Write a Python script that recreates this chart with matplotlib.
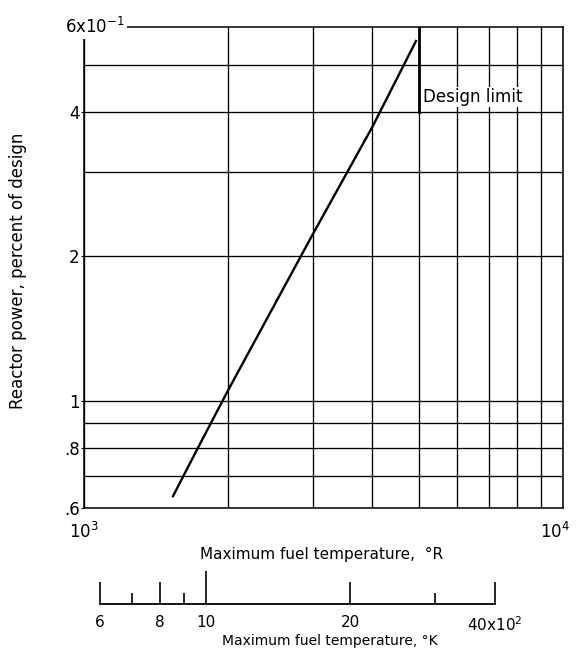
import matplotlib
matplotlib.use('Agg')
import matplotlib.pyplot as plt
from matplotlib import font_manager
from matplotlib.ticker import NullFormatter
from matplotlib.transforms import ScaledTranslation

# curve (max fuel temp in deg R, reactor power x10^-1 % of design)
temp_R = [1534, 1729, 2000, 3000, 4000, 4932]
power = [0.635, 0.8, 1.055, 2.22, 3.72, 5.61]

r_grid = [2000, 3000, 4000, 5000, 6000, 7000, 8000, 9000]
p_ticks = [0.6, 0.8, 1, 2, 4]
p_tick_labels = ['.6', '.8', '1', '2', '4']
p_grid = [0.7, 0.9, 3, 5]
design_limit_R = 5000
design_limit_span = [4, 6]

# kelvin scale under the chart
k_ticks = [600, 800, 1000, 2000, 4000]
k_tick_labels = ['6', '8', '10', '20', r'$\mathregular{40x10^2}$']
k_minor = [700, 900, 3000]

names = {f.name for f in font_manager.fontManager.ttflist}
if 'Liberation Sans Narrow' in names:
    plt.rcParams['font.family'] = 'Liberation Sans Narrow'
    fs_tick, fs_x, fs_k, fs_y, fs_note = 14, 13.5, 12, 14.5, 14
else:
    plt.rcParams['font.family'] = 'DejaVu Sans'
    fs_tick, fs_x, fs_k, fs_y, fs_note = 12, 11, 10, 12, 12

W, H = 576, 655
fig = plt.figure(figsize=(W / 100, H / 100), dpi=100)

# plot box in pixels: left 84, right 563, top 27, bottom 508
ax = fig.add_axes([84 / W, 1 - 508 / H, 479 / W, 481 / H])
ax.set_xscale('log')
ax.set_yscale('log')
ax.set_xlim(1000, 10000)
ax.set_ylim(0.6, 6)

ax.plot(temp_R, power, color='black', lw=1.7, zorder=3)
ax.plot([design_limit_R, design_limit_R], design_limit_span, color='black', lw=2.0, zorder=3)

ax.set_xticks([1000, 10000], [r'$\mathregular{10^3}$', r'$\mathregular{10^4}$'])
ax.set_xticks(r_grid, minor=True)
ax.xaxis.set_minor_formatter(NullFormatter())
ax.set_yticks(p_ticks, p_tick_labels)
ax.set_yticks(p_grid, minor=True)
ax.yaxis.set_minor_formatter(NullFormatter())
ax.tick_params(axis='x', which='both', length=0, pad=10, labelsize=fs_tick)
ax.tick_params(axis='y', which='major', length=2, pad=1, labelsize=fs_tick)
ax.tick_params(axis='y', which='minor', length=0)
ax.grid(which='both', color='black', lw=0.95)
for s in ax.spines.values():
    s.set_linewidth(1.1)

# the 10^4 label sits a bit left of the corner
lab4 = ax.get_xticklabels()[1]
lab4.set_transform(lab4.get_transform() + ScaledTranslation(-6 / 72, 0, fig.dpi_scale_trans))

ax.text(0.023, 1.0, r'$\mathregular{6x10^{-1}}$', transform=ax.transAxes,
        ha='center', va='center', fontsize=fs_tick,
        bbox=dict(facecolor='white', edgecolor='none', pad=1.5), zorder=5)
ax.text(5110, 4.29, 'Design limit', ha='left', va='center', fontsize=fs_note,
        bbox=dict(facecolor='white', edgecolor='none', pad=0.8), zorder=4)

ax.set_xlabel('Maximum fuel temperature,  °R', fontsize=fs_x)
ax.xaxis.set_label_coords(0.495, -0.081)
ax.set_ylabel('Reactor power, percent of design', fontsize=fs_y)
ax.yaxis.set_label_coords(-0.12, 0.493)

# kelvin scale: same log spacing, K = R / 1.8
axk = fig.add_axes([84 / W, 1 - 604 / H, 479 / W, 0.001])
axk.set_xscale('log')
axk.set_xlim(1000 / 1.8, 10000 / 1.8)
axk.set_yticks([])
for side in ['top', 'left', 'right']:
    axk.spines[side].set_visible(False)
axk.spines['bottom'].set_bounds(k_ticks[0], k_ticks[-1])
axk.spines['bottom'].set_linewidth(1.3)
axk.patch.set_visible(False)
axk.set_xticks(k_ticks, k_tick_labels)
axk.set_xticks(k_minor, minor=True)
axk.xaxis.set_minor_formatter(NullFormatter())
axk.tick_params(axis='x', which='major', direction='in', length=16, width=1.2,
                pad=8, labelsize=fs_tick - 1)
axk.tick_params(axis='x', which='minor', direction='in', length=8, width=1.2)
axk.xaxis.get_major_ticks()[2].tick1line.set_markersize(24)

fig.text(330 / W, 1 - 641 / H, 'Maximum fuel temperature, °K',
         ha='center', va='center', fontsize=fs_k)

fig.savefig('out.png', dpi=100, facecolor='white')
